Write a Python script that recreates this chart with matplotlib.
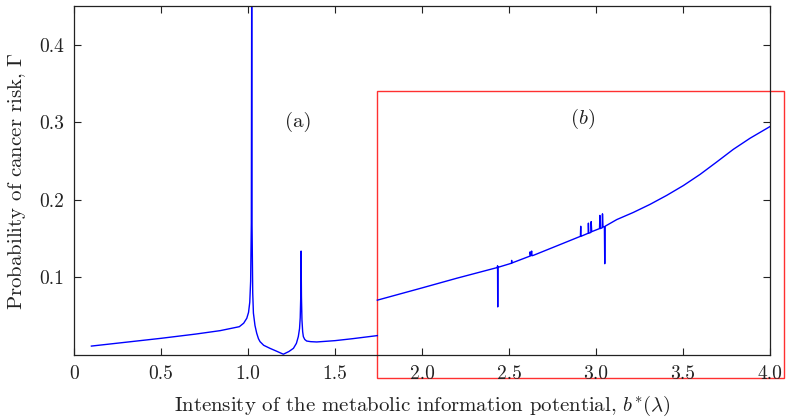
import matplotlib
matplotlib.use("Agg")
import matplotlib.pyplot as plt
from matplotlib.patches import Rectangle

plt.rcParams['font.family'] = 'serif'
plt.rcParams['font.serif'] = ['cmr10']
plt.rcParams['mathtext.fontset'] = 'cm'
plt.rcParams['axes.unicode_minus'] = False

# Curve (a)
xa = [0.10, 0.30, 0.50, 0.70, 0.84, 0.95, 0.975, 0.993, 1.003, 1.010, 1.015, 1.019, 1.021,
      1.023, 1.027, 1.031, 1.040, 1.050, 1.060, 1.069, 1.09, 1.126, 1.165, 1.203,
      1.235, 1.261, 1.278, 1.289, 1.296, 1.300, 1.303, 1.305, 1.307, 1.310, 1.314,
      1.318, 1.326, 1.337, 1.36, 1.395, 1.50, 1.60, 1.743]
ya = [0.0115, 0.0165, 0.0215, 0.027, 0.0314, 0.0365, 0.041, 0.0474, 0.055, 0.068, 0.095, 0.17, 0.46,
      0.17, 0.08, 0.054, 0.038, 0.028, 0.021, 0.0172, 0.0125, 0.0086, 0.0048, 0.0010,
      0.0045, 0.0086, 0.015, 0.0237, 0.034, 0.048, 0.075, 0.134, 0.075, 0.045, 0.030,
      0.0237, 0.020, 0.018, 0.0172, 0.0168, 0.0185, 0.021, 0.025]

# Curve (b)
xb = [1.743, 2.0, 2.2, 2.433, 2.434, 2.435, 2.436, 2.514, 2.515, 2.516,
      2.62, 2.621, 2.625, 2.63, 2.632, 2.64, 2.80,
      2.91, 2.912, 2.913, 2.955, 2.956, 2.958, 2.97, 2.972, 2.975,
      3.02, 3.022, 3.025, 3.035, 3.037, 3.04, 3.048, 3.050, 3.052,
      3.119, 3.214, 3.310, 3.406, 3.502, 3.598, 3.693, 3.789, 3.885, 4.0]
yb = [0.0707, 0.0865, 0.099, 0.1128, 0.115, 0.062, 0.113, 0.1183, 0.122, 0.1186,
      0.1275, 0.133, 0.128, 0.134, 0.128, 0.1285, 0.143,
      0.153, 0.166, 0.153, 0.157, 0.170, 0.157, 0.158, 0.172, 0.159,
      0.163, 0.180, 0.163, 0.164, 0.182, 0.165, 0.1655, 0.1177, 0.166,
      0.1746, 0.1838, 0.1942, 0.2058, 0.2185, 0.2329, 0.2488, 0.2652, 0.2795, 0.2946]

xticks = [0, 0.5, 1.0, 1.5, 2.0, 2.5, 3.0, 3.5, 4.0]
xticklabels = ['0', '0.5', '1.0', '1.5', '2.0', '2.5', '3.0', '3.5', '4.0']
yticks = [0.1, 0.2, 0.3, 0.4]
yticklabels = ['0.1', '0.2', '0.3', '0.4']

fig = plt.figure(figsize=(7.89, 4.17), dpi=100)
ax = fig.add_axes([0.0938, 0.1487, 0.8822, 0.8369])
ax.plot(xa, ya, color='#0000ff', lw=1.0)
ax.plot(xb, yb, color='#0000ff', lw=1.0)
ax.set_xlim(0, 4.0)
ax.set_ylim(0, 0.45)
ax.set_xticks(xticks)
ax.set_xticklabels(xticklabels)
ax.set_yticks(yticks)
ax.set_yticklabels(yticklabels)
ax.tick_params(direction='in', top=True, right=True, length=5, width=0.8,
               labelsize=14, pad=7, colors='#222222', labelcolor='#222222')
for s in ax.spines.values():
    s.set_linewidth(0.9)
    s.set_color('#222222')

ax.set_xlabel(r'Intensity of the metabolic information potential, $b^{*}(\lambda)$',
              fontsize=15, labelpad=8, color='#222222')
ax.set_ylabel(r'Probability of cancer risk, $\Gamma$', fontsize=15, labelpad=8, color='#222222')

ax.text(1.287, 0.301, '(a)', fontsize=15, ha='center', va='center', color='#222222')
ax.text(2.925, 0.304, r'$(b)$', fontsize=15, ha='center', va='center', color='#222222')

rect = Rectangle((1.743, -0.030), 4.082 - 1.743, 0.34 + 0.030, fill=False,
                 edgecolor='#ff3030', lw=1.0, clip_on=False)
ax.add_patch(rect)

fig.savefig('out.png', dpi=100)
